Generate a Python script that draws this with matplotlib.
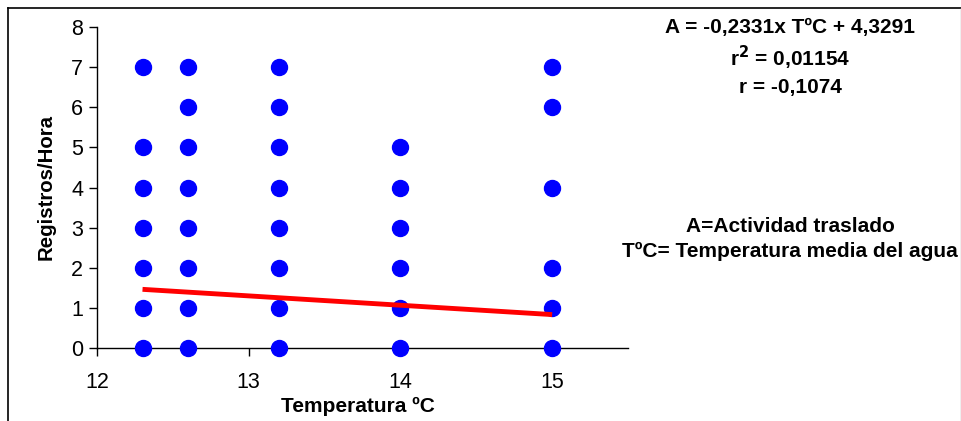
import matplotlib.pyplot as plt
from matplotlib.lines import Line2D

plt.rcParams['font.family'] = ['Liberation Sans', 'DejaVu Sans']

# registros por hora observados a cada temperatura del agua
temp_12_3 = [0, 1, 2, 3, 4, 5, 7]
temp_12_6 = [0, 1, 2, 3, 4, 5, 6, 7]
temp_13_2 = [0, 1, 2, 3, 4, 5, 6, 7]
temp_14_0 = [0, 1, 2, 3, 4, 5]
temp_15_0 = [0, 1, 2, 4, 6, 7]
temperaturas = [12.3, 12.6, 13.2, 14.0, 15.0]
registros = [temp_12_3, temp_12_6, temp_13_2, temp_14_0, temp_15_0]

# recta de regresion A = a*T + b
pendiente = -0.2331
intercepto = 4.3291
rango_t = [12.3, 15.0]

xticks = [12, 13, 14, 15]
yticks = [0, 1, 2, 3, 4, 5, 6, 7, 8]

fig = plt.figure(figsize=(9.62, 4.21), dpi=100)
W, H = 962, 421
ax = fig.add_axes([97 / W, (H - 348) / H, (628 - 97) / W, (348 - 27) / H])

for t, regs in zip(temperaturas, registros):
    ax.plot([t] * len(regs), regs, 'o', color='#0000ff', ms=11.5,
            mec='#0000ff', clip_on=False, zorder=3)

ax.plot(rango_t, [pendiente * t + intercepto for t in rango_t],
        color='#ff0000', lw=3.5, solid_capstyle='butt', zorder=4)

ax.set_xlim(12, 15.5)
ax.set_ylim(0, 8)
ax.set_xticks(xticks)
ax.set_yticks(yticks)
ax.tick_params(labelsize=15.5, length=6, width=1, direction='out', pad=4)
ax.tick_params(axis='x', pad=11)
for s in ['top', 'right']:
    ax.spines[s].set_visible(False)
for s in ['left', 'bottom']:
    ax.spines[s].set_linewidth(1)

ax.set_xlabel('Temperatura ºC', fontsize=15, fontweight='bold')
ax.set_ylabel('Registros/Hora', fontsize=14.7, fontweight='bold')
ax.xaxis.set_label_coords(358 / W, (H - 397) / H, transform=fig.transFigure)
ax.yaxis.set_label_coords(56 / W, (H - 187) / H, transform=fig.transFigure)

txt = dict(fontsize=15, fontweight='bold', ha='center', va='center')
fig.text(790 / W, (H - 27) / H, 'A = -0,2331x TºC + 4,3291', **txt)
fig.text(790 / W, (H - 58) / H, r'r$^\mathbf{2}$ = 0,01154', **txt)
fig.text(790 / W, (H - 87) / H, 'r = -0,1074', **txt)
fig.text(790 / W, (H - 226) / H, 'A=Actividad traslado', **txt)
fig.text(790 / W, (H - 251) / H, 'TºC= Temperatura media del agua', **txt)

# marco del grafico
fig.add_artist(Line2D([8 / W, 8 / W], [0, (H - 8) / H], color='black', lw=1.2))
fig.add_artist(Line2D([8 / W, 961 / W], [(H - 8) / H, (H - 8) / H], color='black', lw=1.2))
fig.add_artist(Line2D([961 / W, 961 / W], [0, (H - 8) / H], color='#b0b0b0', lw=1))

fig.savefig('out.png', dpi=100)
